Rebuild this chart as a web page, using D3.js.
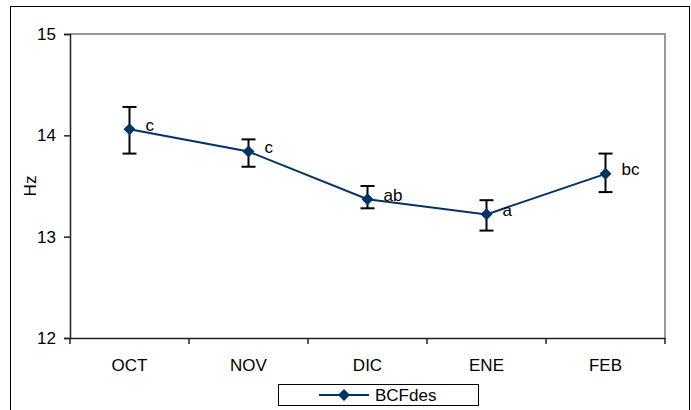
<!DOCTYPE html>
<html><head><meta charset="utf-8">
<script src="https://cdn.jsdelivr.net/npm/d3@7"></script>
<style>body{margin:0;background:#fff}svg{display:block;font-family:Arial,"Liberation Sans",sans-serif}</style>
</head><body><svg id="c" width="691" height="410"></svg>
<script>
const months = ["OCT","NOV","DIC","ENE","FEB"];
const means = [14.06, 13.84, 13.37, 13.22, 13.62];
const upper = [14.28, 13.96, 13.50, 13.36, 13.82];
const lower = [13.82, 13.69, 13.28, 13.06, 13.44];
const letters = ["c","c","ab","a","bc"];
const yTicks = [12,13,14,15];
const seriesName = "BCFdes";

const svg = d3.select("#c");
const m = {l:70, t:34, r:665, b:338};
const navy = "#003366";
const fs = 17;

svg.append("rect").attr("x",10.5).attr("y",6.5).attr("width",679).attr("height",420)
  .attr("fill","none").attr("stroke","#000").attr("stroke-width",1);

const x = d3.scaleBand().domain(months).range([m.l, m.r]);
const y = d3.scaleLinear().domain([12,15]).range([m.b, m.t]);

// plot border (top/right gray)
svg.append("path").attr("d",`M${m.l},${m.t}H${m.r}V${m.b}`).attr("fill","none")
  .attr("stroke","#999").attr("stroke-width",2);

const yAx = svg.append("g").attr("transform",`translate(${m.l},0)`)
  .call(d3.axisLeft(y).tickValues(yTicks).tickSize(6).tickPadding(8).tickFormat(d3.format("d")));
const xAx = svg.append("g").attr("transform",`translate(0,${m.b})`)
  .call(d3.axisBottom(x).tickSize(0).tickPadding(21));
[yAx,xAx].forEach(g=>{
  g.selectAll("text").attr("font-size",fs).attr("font-family","Arial,'Liberation Sans',sans-serif").attr("fill","#000");
  g.select(".domain").attr("stroke","#222").attr("stroke-width",1.5);
  g.selectAll(".tick line").attr("stroke","#222").attr("stroke-width",1.5);
});
// x category boundary ticks
const bounds = months.map(d=>x(d)).concat([x(months[months.length-1])+x.bandwidth()]);
svg.append("g").selectAll("line").data(bounds).join("line")
  .attr("x1",d=>d).attr("x2",d=>d).attr("y1",m.b).attr("y2",m.b+6)
  .attr("stroke","#222").attr("stroke-width",1.5);

svg.append("text").attr("transform",`translate(30,${(m.t+m.b)/2}) rotate(-90)`)
  .attr("text-anchor","middle").attr("dominant-baseline","central").attr("font-size",fs).text("Hz");

const cx = d => x(d)+x.bandwidth()/2;
const data = months.map((mo,i)=>({mo, v:means[i], hi:upper[i], lo:lower[i], lab:letters[i]}));

// error bars
const eb = svg.append("g").attr("stroke","#000").attr("stroke-width",2);
data.forEach(d=>{
  eb.append("line").attr("x1",cx(d.mo)).attr("x2",cx(d.mo)).attr("y1",y(d.hi)).attr("y2",y(d.lo));
  [d.hi,d.lo].forEach(v=>eb.append("line").attr("x1",cx(d.mo)-7).attr("x2",cx(d.mo)+7).attr("y1",y(v)).attr("y2",y(v)));
});

svg.append("path").datum(data).attr("fill","none").attr("stroke",navy).attr("stroke-width",2)
  .attr("d",d3.line().x(d=>cx(d.mo)).y(d=>y(d.v)));

const diamond = (px,py,r)=>`M${px},${py-r}L${px+r},${py}L${px},${py+r}L${px-r},${py}Z`;
svg.append("g").selectAll("path").data(data).join("path")
  .attr("d",d=>diamond(cx(d.mo),y(d.v),6)).attr("fill",navy);

svg.append("g").selectAll("text").data(data).join("text")
  .attr("x",d=>cx(d.mo)+16).attr("y",d=>y(d.v)-4).attr("dominant-baseline","central")
  .attr("font-size",fs).text(d=>d.lab);

// legend
const lg = svg.append("g");
lg.append("rect").attr("x",278.5).attr("y",384.5).attr("width",200).attr("height",21)
  .attr("fill","#fff").attr("stroke","#000").attr("stroke-width",1);
lg.append("line").attr("x1",319).attr("x2",369).attr("y1",395).attr("y2",395).attr("stroke",navy).attr("stroke-width",2);
lg.append("path").attr("d",diamond(344,395,6)).attr("fill",navy);
lg.append("text").attr("x",375).attr("y",395).attr("dominant-baseline","central").attr("font-size",fs).text(seriesName);
</script></body></html>
